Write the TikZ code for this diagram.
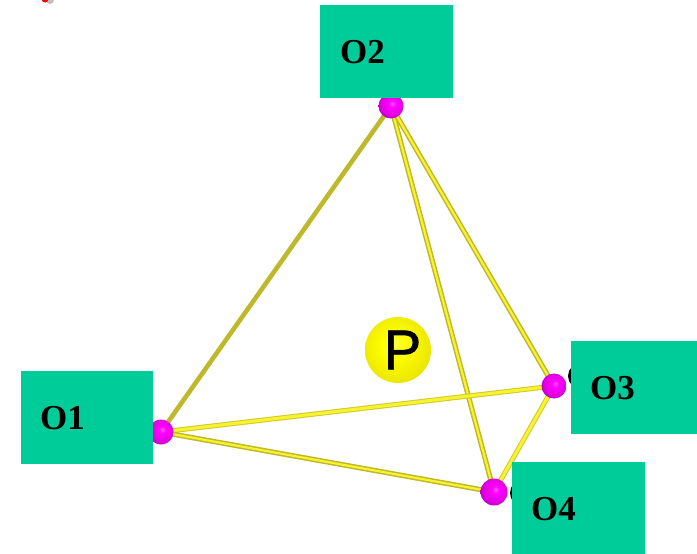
\documentclass[tikz,border=0pt]{standalone}
\usepackage{fontspec}
\setmainfont{Liberation Serif}
\newfontfamily\labelsans[FakeBold=1.2]{Liberation Sans}
\definecolor{boxgreen}{HTML}{00CC99}
\definecolor{bondlight}{HTML}{F8F230}
\definecolor{bonddark}{HTML}{BDB92A}
\definecolor{magA}{HTML}{FF59FF}
\definecolor{magB}{HTML}{FF00FF}
\definecolor{magC}{HTML}{E000E0}
\definecolor{magD}{HTML}{8A00A0}
\definecolor{yelA}{HTML}{FFFF50}
\definecolor{yelB}{HTML}{FFFF00}
\definecolor{yelC}{HTML}{EDE800}
\definecolor{yelD}{HTML}{A8A400}
\pgfdeclareradialshading{magentaball}{\pgfpoint{3bp}{5bp}}{
  color(0bp)=(magA);
  color(7bp)=(magB);
  color(22bp)=(magC);
  color(34bp)=(magD);
  color(50bp)=(magD)}
\pgfdeclareradialshading{yellowball}{\pgfpoint{-4bp}{5bp}}{
  color(0bp)=(yelA);
  color(9bp)=(yelB);
  color(26bp)=(yelC);
  color(38bp)=(yelD);
  color(50bp)=(yelD)}
\tikzset{
  x=1pt,y=-1pt,
  bond/.style={draw=bonddark,line width=1.5pt,double=bondlight,double distance=2.2pt,line cap=round},
  bondbright/.style={draw=bonddark!70!bondlight,line width=1pt,double=bondlight,double distance=3pt,line cap=round},
  bondolive/.style={draw=bonddark,line width=4.6pt,line cap=round},
  atom/.style={circle,minimum size=25pt,inner sep=0pt,shading=magentaball},
  hidden/.style={circle,fill=black,minimum size=26pt,inner sep=0pt},
  tag/.style={rectangle,fill=boxgreen,anchor=north west,inner sep=0pt,
    minimum height=93pt,align=left,text=black,
    font=\fontsize{35}{35}\selectfont\bfseries},
}
\begin{document}
\begin{tikzpicture}
\useasboundingbox (0,0) rectangle (697,554);
\fill[white] (0,0) rectangle (697,554);
% red speck at the top edge
\begin{scope}
\clip (0,0) rectangle (697,554);
\fill[black!25] (50,0) circle (4);
\fill[red] (45,-1) circle (3.5);
\end{scope}
\coordinate (O2) at (391,106);
\coordinate (O1) at (161,432);
\coordinate (O3) at (554,386);
\coordinate (O4) at (494,492);
\draw[bondolive] (O1) -- (O2);
\draw[bond] (O2) -- (O4);
\draw[bond] (O2) -- (O3);
\draw[bondbright] (O1) -- (O3);
\draw[bond] (O1) -- (O4);
\draw[bondbright] (O3) -- (O4);
\node[hidden] (B3) at (581,376) {};
\node[hidden] (B4) at (523,493) {};
\node[atom] (A2) at (O2) {};
\node[atom] (A1) at (O1) {};
\node[atom] (A3) at (O3) {};
\node[atom,minimum size=27pt] (A4) at (O4) {};
\node[circle,minimum size=66pt,inner sep=0pt,shading=yellowball,text=black,
  font=\labelsans\fontsize{56}{56}\selectfont] (P) at (398,350) {\hspace*{9pt}P};
\node[tag,text width=133pt] (L2) at (320,5) {\hspace*{20pt}O2};
\node[tag,text width=132pt] (L1) at (21,371) {\hspace*{19pt}O1};
\node[tag,text width=126pt] (L3) at (571,341) {\hspace*{19pt}O3};
\node[tag,text width=133pt] (L4) at (512,462) {\hspace*{19pt}O4};
\end{tikzpicture}
\end{document}
